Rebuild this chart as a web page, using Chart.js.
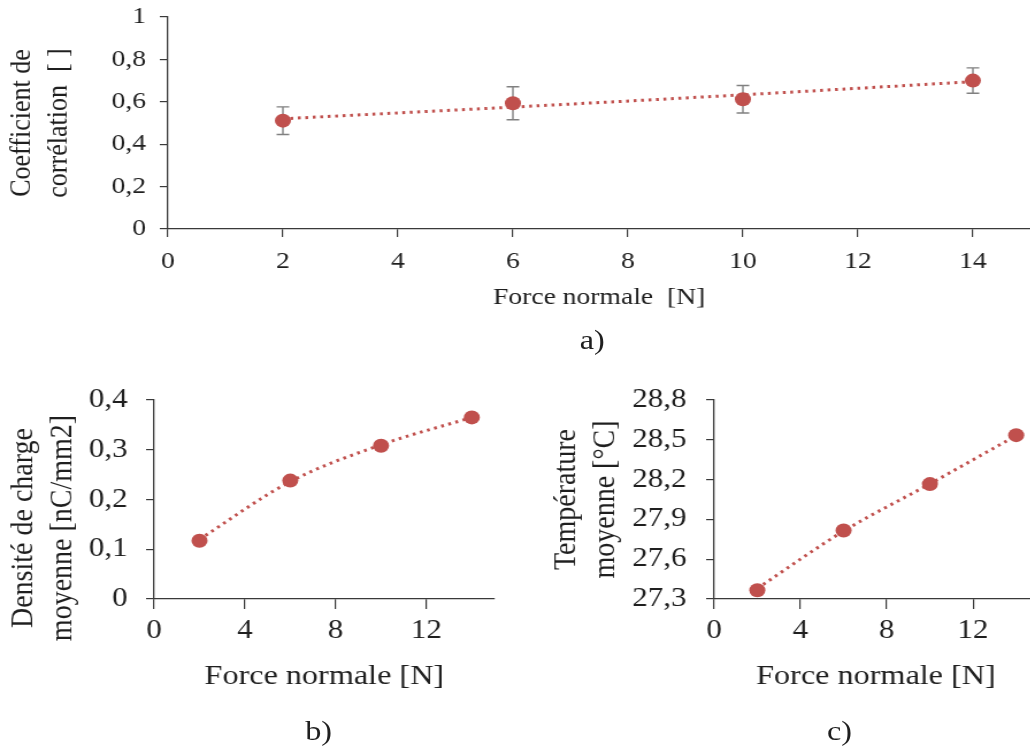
<!DOCTYPE html>
<html>
<head>
<meta charset="utf-8">
<script src="https://cdn.jsdelivr.net/npm/chart.js@4.4.1/dist/chart.umd.min.js"></script>
<style>
    body { margin: 0; overflow: hidden; background: #fff; }
    /* the source figure is stretched sideways, so the whole sheet is too */
    #wrap { position: absolute; left: 0; top: 0; width: 896px; height: 749px; transform: scaleX(1.15); transform-origin: 0 0; }
    .box { position: absolute; }
    .tag { position: absolute; width: 60px; text-align: center; font: 28px "Liberation Serif", serif; color: #1f1f1f; line-height: 30px; }
</style>
</head>
<body>
<div id="wrap">
    <div class="box" style="left:0;top:0"><canvas id="chartA" width="896" height="320"></canvas></div>
    <div class="box" style="left:0;top:370px"><canvas id="chartB" width="452" height="330"></canvas></div>
    <div class="box" style="left:470px;top:370px"><canvas id="chartC" width="440" height="330"></canvas></div>
    <div class="tag" style="left:485px;top:325px">a)</div>
    <div class="tag" style="left:247px;top:716px">b)</div>
    <div class="tag" style="left:700px;top:716px">c)</div>
</div>
<script>
// Data
const xForce = [2, 6, 10, 14];

// a) correlation coefficient
const corrValues = [0.511, 0.593, 0.612, 0.700];
const corrErrors = [0.065, 0.078, 0.065, 0.060];
const corrTrend = [0.520, 0.575, 0.633, 0.695];

// b) mean charge density
const chargeValues = [0.117, 0.238, 0.308, 0.365];
const chargeTrend = [0.120, 0.236, 0.310, 0.365];

// c) mean temperature
const tempValues = [27.366, 27.816, 28.166, 28.535];
const tempTrend = [27.380, 27.812, 28.168, 28.532];

const red = '#C0504D';
const axisColor = '#3a3a3a';
const textColor = '#1f1f1f';
const family = 'Liberation Serif';

const fmt = v => String(+v.toFixed(2)).replace('.', ',');
const pts = vals => xForce.map((x, i) => ({x, y: vals[i]}));

// Error bars, drawn behind the markers
function makeErrorBars(values, errors) {
    return {
        id: 'errorBars',
        beforeDatasetsDraw(chart) {
            const {ctx, scales: {x, y}} = chart;
            ctx.save();
            ctx.strokeStyle = '#808080';
            ctx.lineWidth = 1.4;
            xForce.forEach((xv, i) => {
                const px = x.getPixelForValue(xv);
                const top = y.getPixelForValue(values[i] + errors[i]);
                const bot = y.getPixelForValue(values[i] - errors[i]);
                ctx.beginPath();
                ctx.moveTo(px, top); ctx.lineTo(px, bot);
                ctx.moveTo(px - 5.5, top); ctx.lineTo(px + 5.5, top);
                ctx.moveTo(px - 5.5, bot); ctx.lineTo(px + 5.5, bot);
                ctx.stroke();
            });
            ctx.restore();
        }
    };
}

// Rotated two-line axis title placed freely (used for chart b)
function makeSideTitle(lines, cx, cy, size) {
    return {
        id: 'sideTitle',
        afterDraw(chart) {
            const ctx = chart.ctx;
            ctx.save();
            ctx.translate(cx, cy);
            ctx.rotate(-Math.PI / 2);
            ctx.font = size + 'px "' + family + '"';
            ctx.fillStyle = textColor;
            ctx.textAlign = 'center';
            ctx.textBaseline = 'middle';
            lines.forEach((t, i) => ctx.fillText(t, 0, i * size * 1.2));
            ctx.restore();
        }
    };
}

function datasets(values, trend) {
    return [{
        data: pts(values),
        showLine: false,
        pointRadius: 7,
        pointBorderWidth: 0,
        backgroundColor: red,
        borderColor: red
    }, {
        data: pts(trend),
        showLine: true,
        pointRadius: 0,
        borderColor: red,
        borderWidth: 3,
        borderDash: [2.5, 4],
        cubicInterpolationMode: 'monotone',
        fill: false
    }];
}

function xScale(o) {
    return {
        type: 'linear', min: 0, max: 15,
        ticks: {stepSize: o.step, includeBounds: false, color: textColor, padding: o.pad,
            font: {family, size: o.tickSize}},
        grid: {drawOnChartArea: false, tickLength: o.tickLen, color: axisColor, lineWidth: 1.2},
        border: {color: axisColor, width: 1.3},
        title: {display: true, text: o.title, color: textColor,
            font: {family, size: o.titleSize, lineHeight: 1.2}, padding: {top: 0, bottom: o.titlePad}},
        afterFit: s => { s.height = o.height; s.paddingLeft = 0; s.paddingRight = 0; }
    };
}

function yScale(o) {
    return {
        type: 'linear', min: o.min, max: o.max,
        ticks: {stepSize: o.step, color: textColor, padding: o.pad, callback: fmt,
            font: {family, size: o.tickSize}},
        grid: {drawOnChartArea: false, tickLength: 7, color: axisColor, lineWidth: 1.2},
        border: {color: axisColor, width: 1.3},
        title: {display: !!o.title, text: o.title, color: textColor,
            font: {family, size: o.titleSize, lineHeight: 1.2}, padding: {top: o.titlePad, bottom: 0}},
        afterFit: s => { s.width = o.width; s.paddingTop = 0; s.paddingBottom = 0; }
    };
}

function common(padding) {
    return {
        responsive: false,
        animation: false,
        layout: {padding, autoPadding: false},
        plugins: {legend: {display: false}, tooltip: {enabled: false}}
    };
}

// a)
new Chart(document.getElementById('chartA'), {
    type: 'scatter',
    data: {datasets: datasets(corrValues, corrTrend)},
    options: {
        ...common({top: 17, right: 0, left: 0, bottom: 0}),
        scales: {
            x: xScale({step: 2, pad: 10, tickSize: 24, tickLen: 8, title: 'Force normale  [N]', titleSize: 24, titlePad: 8, height: 91}),
            y: yScale({min: 0, max: 1, step: 0.2, pad: 12, tickSize: 24, width: 146,
                title: ['Coefficient de', 'corrélation  [ ]'], titleSize: 26, titlePad: 4})
        }
    },
    plugins: [makeErrorBars(corrValues, corrErrors)]
});

// b)
new Chart(document.getElementById('chartB'), {
    type: 'scatter',
    data: {datasets: datasets(chargeValues, chargeTrend)},
    options: {
        ...common({top: 30, right: 22, left: 0, bottom: 0}),
        scales: {
            x: xScale({step: 4, pad: 6, tickSize: 27, tickLen: 10, title: 'Force normale [N]', titleSize: 28, titlePad: 7, height: 101}),
            y: yScale({min: 0, max: 0.4, step: 0.1, pad: 16, tickSize: 27, width: 134})
        }
    },
    plugins: [makeSideTitle(['Densité de charge', 'moyenne [nC/mm2]'], 21, 158, 28)]
});

// c)
new Chart(document.getElementById('chartC'), {
    type: 'scatter',
    data: {datasets: datasets(tempValues, tempTrend)},
    options: {
        ...common({top: 30, right: 7.6, left: 0, bottom: 0}),
        scales: {
            x: xScale({step: 4, pad: 6, tickSize: 27, tickLen: 10, title: 'Force normale [N]', titleSize: 28, titlePad: 7, height: 101}),
            y: yScale({min: 27.3, max: 28.8, step: 0.3, pad: 17, tickSize: 27, width: 151,
                title: ['Température', 'moyenne [°C]'], titleSize: 28, titlePad: 6})
        }
    }
});
</script>
</body>
</html>
